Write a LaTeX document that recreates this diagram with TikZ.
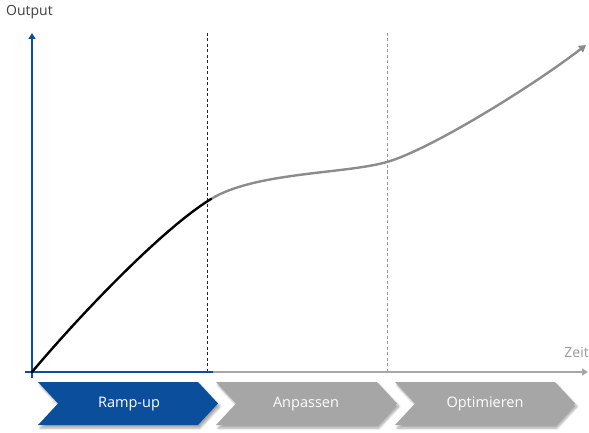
\documentclass[tikz,border=0pt]{standalone}
\usepackage{fontspec}
\setmainfont{Open Sans}
\usetikzlibrary{arrows.meta,shadows.blur}
\definecolor{axblue}{HTML}{0B4F9C}
\definecolor{chgray}{HTML}{A6A6A6}
\definecolor{curvegray}{HTML}{8C8C8C}
\definecolor{lblgray}{HTML}{9A9A9A}
\tikzset{
  axisline/.style={line width=2.4pt},
  curveline/.style={line width=2.4pt, line cap=round},
  divline/.style={line width=0.9pt, dash pattern=on 3pt off 2.5pt},
  chev/.style={blur shadow={shadow xshift=2pt, shadow yshift=-3pt, shadow blur steps=6, shadow opacity=35}},
  chevtext/.style={text=white, font=\fontsize{14.5}{16}\selectfont},
  axlabel/.style={font=\fontsize{14}{16}\selectfont, inner sep=0pt}
}
\begin{document}
\begin{tikzpicture}[x=1pt,y=-1pt]
\useasboundingbox (0,0) rectangle (589,433);
% coordinates
\coordinate (o) at (32,378);
\coordinate (ytop) at (32,33);
\coordinate (xl) at (25,372);
\coordinate (xm) at (213,372);
\coordinate (xr) at (588,372);
\coordinate (d1t) at (207,33);
\coordinate (d1b) at (207,372);
\coordinate (d2t) at (387,33);
\coordinate (d2b) at (387,372);
\coordinate (c0) at (32,372);
\coordinate (c1) at (211,199);
\coordinate (c2) at (387,162);
\coordinate (c3) at (586,45);
% dashed dividers
\draw[divline, black!85] (d1t) -- (d1b);
\draw[divline, black!40] (d2t) -- (d2b);
% x axis
\draw[axisline, chgray, -{Triangle[width=7pt,length=6pt]}] (xm) -- (xr);
\draw[axisline, axblue] (xl) -- (xm);
% y axis
\draw[axisline, axblue, -{Triangle[width=7pt,length=6pt]}] (o) -- (ytop);
% curve
\draw[curveline, curvegray, -{Triangle[width=8pt,length=7pt]}]
  (c1) .. controls (255,172) and (345,174) .. (c2)
       .. controls (429,150) and (530,88) .. (c3);
\draw[curveline, black] (c0) .. controls (80,315) and (162,229) .. (c1);
% labels
\node[axlabel, anchor=west, text=black!75] (out) at (6,12) {Output};
\node[axlabel, anchor=east, text=lblgray] (zeit) at (589,352) {Zeit};
% chevrons
\fill[axblue, chev] (38,382) -- (198,382) -- (218,403.5) -- (198,425) -- (38,425) -- (58,403.5) -- cycle;
\fill[chgray, chev] (216,382) -- (377,382) -- (397,403.5) -- (377,425) -- (216,425) -- (236,403.5) -- cycle;
\fill[chgray, chev] (395,382) -- (555,382) -- (575,403.5) -- (555,425) -- (395,425) -- (415,403.5) -- cycle;
\node[chevtext] (ramp) at (129,404) {Ramp-up};
\node[chevtext] (anp) at (306,404) {Anpassen};
\node[chevtext] (opt) at (485,404) {Optimieren};
\end{tikzpicture}
\end{document}
